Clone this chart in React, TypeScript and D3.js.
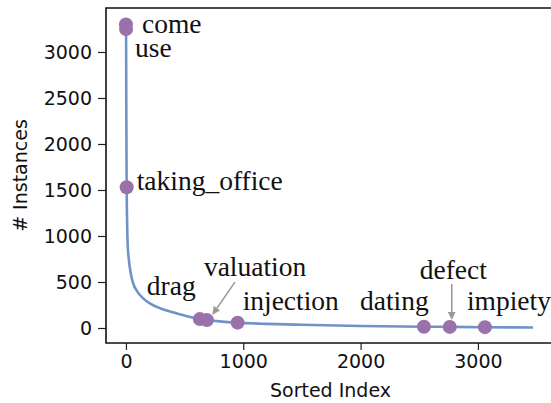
import React, { useRef, useEffect } from 'react';
import * as d3 from 'd3';

// sorted frequency curve (index, # instances)
const CURVE_INDEX = [0, 1, 3, 6, 10, 15, 25, 40, 60, 100, 145, 200, 300, 400, 500, 630, 700, 800, 952, 1200, 1500, 2000, 2540, 2760, 3060, 3470];
const CURVE_COUNT = [3300, 3250, 2400, 1530, 1150, 900, 740, 600, 490, 390, 325, 270, 210, 170, 135, 97, 85, 72, 58, 45, 35, 22, 14, 12, 9, 5];

// highlighted words
const WORDS = ['come', 'use', 'taking_office', 'drag', 'valuation', 'injection', 'dating', 'defect', 'impiety'];
const WORD_INDEX = [0, 1, 6, 630, 690, 952, 2540, 2760, 3060];
const WORD_COUNT = [3300, 3250, 1530, 97, 86, 58, 14, 12, 9];

const X_TICKS = [0, 1000, 2000, 3000];
const Y_TICKS = [0, 500, 1000, 1500, 2000, 2500, 3000];

// label placement relative to the point (px)
const LABEL_POS: Record<string, { dx: number; dy: number; arrow?: [number, number, number, number] }> = {
  come: { dx: 16, dy: 9 },
  use: { dx: 9, dy: 28 },
  taking_office: { dx: 10, dy: 3 },
  drag: { dx: -53, dy: -24 },
  valuation: { dx: -3, dy: -44, arrow: [28, -38, 6, -6] },
  injection: { dx: 5, dy: -13 },
  dating: { dx: -64, dy: -17 },
  defect: { dx: -30, dy: -48, arrow: [2, -43, 2, -8] },
  impiety: { dx: -18, dy: -17 },
};

const SERIF = "'Liberation Serif', 'Times New Roman', Times, serif";
const SANS = "'DejaVu Sans', sans-serif";

const App: React.FC = () => {
  const svgRef = useRef<SVGSVGElement>(null);

  useEffect(() => {
    if (!svgRef.current) return;
    const W = 551, H = 403;
    const left = 106, top = 8, bottom = 343, right = 553;

    const svg = d3.select(svgRef.current);
    svg.selectAll('*').remove();

    const x = d3.scaleLinear().domain([-170, 3640]).range([left, right]);
    const y = d3.scaleLinear().domain([-163, 3478]).range([bottom, top]);

    const defs = svg.append('defs');
    defs.append('marker')
      .attr('id', 'arr')
      .attr('viewBox', '0 0 10 10')
      .attr('refX', 9).attr('refY', 5)
      .attr('markerWidth', 8).attr('markerHeight', 8)
      .attr('markerUnits', 'userSpaceOnUse')
      .attr('orient', 'auto')
      .append('path').attr('d', 'M0,0 L10,5 L0,10 z').attr('fill', '#999');

    // X axis
    const gx = svg.append('g').attr('transform', `translate(0,${bottom})`)
      .call(d3.axisBottom(x).tickValues(X_TICKS).tickSize(7).tickPadding(5).tickFormat(d3.format('d')));
    gx.select('.domain').remove();
    gx.selectAll('line').attr('stroke', '#222').attr('stroke-width', 1.2);
    gx.selectAll('text').attr('font-size', '19px').attr('font-family', SANS).attr('fill', '#111');

    // Y axis
    const gy = svg.append('g').attr('transform', `translate(${left},0)`)
      .call(d3.axisLeft(y).tickValues(Y_TICKS).tickSize(8).tickPadding(6).tickFormat(d3.format('d')));
    gy.select('.domain').remove();
    gy.selectAll('line').attr('stroke', '#222').attr('stroke-width', 1.2);
    gy.selectAll('text').attr('font-size', '19px').attr('font-family', SANS).attr('fill', '#111');

    // spines
    svg.append('path')
      .attr('d', `M${W},${top}H${left}V${bottom}H${W}`)
      .attr('fill', 'none').attr('stroke', '#111').attr('stroke-width', 1.6);

    // axis titles
    svg.append('text').attr('x', (left + right) / 2 + 1).attr('y', 397)
      .attr('text-anchor', 'middle').attr('font-size', '19px').attr('font-family', SANS)
      .attr('fill', '#111').text('Sorted Index');
    svg.append('text').attr('transform', `translate(27,${(top + bottom) / 2}) rotate(-90)`)
      .attr('text-anchor', 'middle').attr('font-size', '19px').attr('font-family', SANS)
      .attr('fill', '#111').text('# Instances');

    // curve
    const pts = CURVE_INDEX.map((v, i) => [v, CURVE_COUNT[i]] as [number, number]);
    svg.append('path').datum(pts)
      .attr('d', d3.line<[number, number]>().x(d => x(d[0])).y(d => y(d[1])).curve(d3.curveMonotoneX))
      .attr('fill', 'none').attr('stroke', '#6f93c9').attr('stroke-width', 2.6);

    // markers
    svg.append('g').selectAll('circle').data(WORDS).join('circle')
      .attr('cx', (_, i) => x(WORD_INDEX[i]))
      .attr('cy', (_, i) => y(WORD_COUNT[i]))
      .attr('r', 7)
      .attr('fill', '#9a71aa');

    // labels + arrows
    WORDS.forEach((w, i) => {
      const px = x(WORD_INDEX[i]);
      const py = y(WORD_COUNT[i]);
      const p = LABEL_POS[w];
      svg.append('text').attr('x', px + p.dx).attr('y', py + p.dy)
        .attr('font-size', '27.5px')
        .style('font-family', SERIF)
        .attr('fill', '#111').text(w);
      if (p.arrow) {
        const [x1, y1, x2, y2] = p.arrow;
        svg.append('line')
          .attr('x1', px + x1).attr('y1', py + y1).attr('x2', px + x2).attr('y2', py + y2)
          .attr('stroke', '#999').attr('stroke-width', 1.6).attr('marker-end', 'url(#arr)');
      }
    });

    svg.attr('width', W).attr('height', H);
  }, []);

  return (
    <svg ref={svgRef} width={551} height={403} style={{ position: 'absolute', left: 0, top: 0, background: '#fff' }} />
  );
};

export default App;
